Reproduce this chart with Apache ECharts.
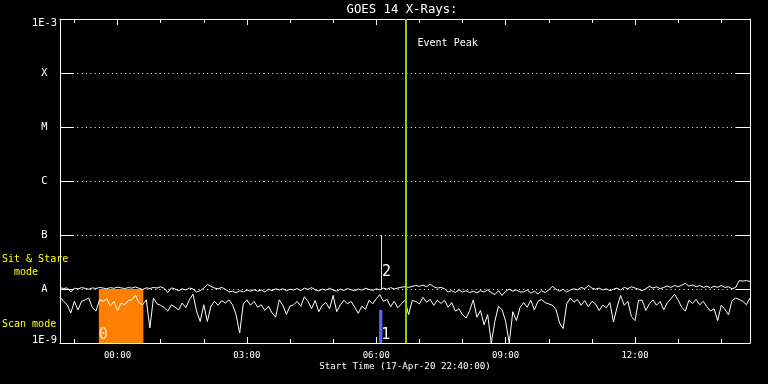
<!DOCTYPE html>
<html><head><meta charset="utf-8">
<script src="https://cdn.jsdelivr.net/npm/echarts@6/dist/echarts.min.js"></script>
<style>html,body{margin:0;padding:0;background:#000}#c{width:768px;height:384px}</style>
</head><body><div id="c"></div>
<script>
// ---------- data ----------
const chartTitle = 'GOES 14 X-Rays:';
const startTimeLabel = 'Start Time (17-Apr-20 22:40:00)';
// time in minutes relative to 00:00 on 18-Apr-20
const timeStartMin = -80;      // 22:40
const timeEndMin = 880;        // 14:40
const sampleStepMin = 5;
const yTickLabels = ['1E-9', 'A', 'B', 'C', 'M', 'X', '1E-3'];
const fluxMin = 1e-9, fluxMax = 1e-3;

// GOES long channel (1-8 A), W/m^2
const longFlux = [
1.06e-8,1.02e-8,1.05e-8,0.88e-8,1.04e-8,1.00e-8,1.06e-8,1.03e-8,0.99e-8,1.05e-8,1.02e-8,1.07e-8,1.04e-8,1.01e-8,1.06e-8,1.03e-8,1.08e-8,1.05e-8,1.02e-8,1.06e-8,1.04e-8,1.09e-8,1.03e-8,0.98e-8,1.05e-8,1.02e-8,1.07e-8,1.04e-8,1.10e-8,1.03e-8,0.86e-8,1.05e-8,1.00e-8,
0.93e-8,1.01e-8,0.96e-8,1.04e-8,1.00e-8,0.88e-8,0.93e-8,1.04e-8,1.21e-8,1.12e-8,1.04e-8,1.01e-8,1.07e-8,0.99e-8,0.88e-8,0.91e-8,0.85e-8,0.93e-8,0.88e-8,0.96e-8,0.91e-8,0.97e-8,0.91e-8,0.96e-8,0.88e-8,0.99e-8,0.93e-8,1.01e-8,0.96e-8,1.01e-8,0.93e-8,0.99e-8,
0.96e-8,1.02e-8,0.93e-8,1.04e-8,0.98e-8,1.06e-8,0.97e-8,0.92e-8,1.00e-8,0.95e-8,1.03e-8,0.96e-8,0.91e-8,0.99e-8,0.94e-8,1.02e-8,0.97e-8,0.93e-8,1.00e-8,0.95e-8,1.03e-8,0.98e-8,0.94e-8,1.01e-8,0.96e-8,1.04e-8,0.99e-8,1.06e-8,1.00e-8,1.04e-8,1.08e-8,1.10e-8,
1.07e-8,1.12e-8,1.16e-8,1.12e-8,1.18e-8,1.10e-8,1.23e-8,1.10e-8,1.04e-8,1.07e-8,1.01e-8,0.88e-8,0.93e-8,0.86e-8,0.96e-8,0.88e-8,0.93e-8,0.86e-8,0.91e-8,0.85e-8,0.93e-8,0.88e-8,0.96e-8,0.86e-8,0.785e-8,0.93e-8,0.76e-8,0.91e-8,0.99e-8,0.91e-8,0.96e-8,0.88e-8,
0.88e-8,0.96e-8,0.84e-8,0.91e-8,0.81e-8,0.93e-8,0.86e-8,0.96e-8,1.12e-8,0.99e-8,0.91e-8,0.99e-8,0.88e-8,0.96e-8,1.01e-8,0.96e-8,1.07e-8,1.01e-8,1.16e-8,1.04e-8,0.99e-8,1.04e-8,0.96e-8,1.01e-8,0.93e-8,0.99e-8,1.04e-8,0.96e-8,1.07e-8,1.01e-8,1.10e-8,1.04e-8,0.99e-8,
0.93e-8,1.01e-8,1.12e-8,1.04e-8,1.10e-8,1.01e-8,1.07e-8,1.13e-8,1.07e-8,1.16e-8,1.10e-8,1.18e-8,1.27e-8,1.13e-8,1.18e-8,1.10e-8,1.16e-8,1.07e-8,1.13e-8,1.04e-8,1.13e-8,1.07e-8,1.16e-8,1.07e-8,1.10e-8,1.01e-8,1.07e-8,1.43e-8,1.40e-8,1.43e-8,1.38e-8
];
// GOES short channel (0.5-4 A), W/m^2
const shortFlux = [
0.70e-8,0.59e-8,0.51e-8,0.36e-8,0.59e-8,0.41e-8,0.59e-8,0.63e-8,0.68e-8,0.45e-8,0.39e-8,0.63e-8,0.59e-8,0.66e-8,0.48e-8,0.59e-8,0.40e-8,0.55e-8,0.51e-8,0.61e-8,0.63e-8,0.76e-8,0.55e-8,0.51e-8,0.63e-8,0.19e-8,0.68e-8,0.53e-8,0.50e-8,0.45e-8,0.39e-8,0.51e-8,0.46e-8,
0.41e-8,0.55e-8,0.45e-8,0.63e-8,0.80e-8,0.39e-8,0.25e-8,0.51e-8,0.25e-8,0.48e-8,0.59e-8,0.50e-8,0.61e-8,0.55e-8,0.63e-8,0.51e-8,0.335e-8,0.153e-8,0.53e-8,0.63e-8,0.50e-8,0.59e-8,0.46e-8,0.51e-8,0.40e-8,0.48e-8,0.36e-8,0.30e-8,0.63e-8,0.50e-8,0.34e-8,0.48e-8,
0.51e-8,0.59e-8,0.48e-8,0.72e-8,0.59e-8,0.43e-8,0.61e-8,0.38e-8,0.50e-8,0.56e-8,0.43e-8,0.76e-8,0.38e-8,0.51e-8,0.62e-8,0.53e-8,0.59e-8,0.46e-8,0.355e-8,0.48e-8,0.42e-8,0.62e-8,0.53e-8,0.66e-8,0.785e-8,0.59e-8,0.64e-8,0.47e-8,0.59e-8,0.45e-8,0.53e-8,0.62e-8,
0.335e-8,0.61e-8,0.59e-8,0.53e-8,0.70e-8,0.57e-8,0.64e-8,0.50e-8,0.62e-8,0.54e-8,0.62e-8,0.46e-8,0.56e-8,0.39e-8,0.43e-8,0.335e-8,0.29e-8,0.40e-8,0.63e-8,0.30e-8,0.40e-8,0.218e-8,0.335e-8,0.10e-8,0.252e-8,0.48e-8,0.414e-8,0.252e-8,0.10e-8,0.38e-8,0.26e-8,0.45e-8,
0.56e-8,0.46e-8,0.62e-8,0.41e-8,0.59e-8,0.64e-8,0.56e-8,0.53e-8,0.50e-8,0.42e-8,0.235e-8,0.185e-8,0.53e-8,0.68e-8,0.57e-8,0.64e-8,0.50e-8,0.61e-8,0.47e-8,0.59e-8,0.53e-8,0.40e-8,0.50e-8,0.45e-8,0.56e-8,0.245e-8,0.46e-8,0.76e-8,0.50e-8,0.59e-8,0.31e-8,0.26e-8,0.62e-8,
0.62e-8,0.40e-8,0.53e-8,0.63e-8,0.50e-8,0.59e-8,0.41e-8,0.56e-8,0.66e-8,0.80e-8,0.62e-8,0.46e-8,0.39e-8,0.62e-8,0.54e-8,0.64e-8,0.51e-8,0.59e-8,0.47e-8,0.39e-8,0.43e-8,0.26e-8,0.50e-8,0.42e-8,0.335e-8,0.61e-8,0.68e-8,0.64e-8,0.59e-8,0.51e-8,0.68e-8
];

// annotated intervals / events (minutes from 00:00, flux W/m^2)
const scanInterval = [-26, 36];       // 23:34 - 00:36, region "0"
const scanTopFlux = 1e-8;
const eventOneInterval = [364, 368.5]; // region "1"
const eventOneFlux = 4.1e-9;
const eventTwoTime = 367.3;           // marker "2"
const eventTwoRange = [1e-8, 1e-7];
const eventTwoLabelFlux = 2.02e-8;
const eventPeakTime = 401.4;          // 06:41
const eventPeakLabelFlux = 3.59e-4;
const regionLabels = ['0', '1', '2'];

// ---------- chart ----------
const MONO = '"DejaVu Sans Mono", monospace';
const chart = echarts.init(document.getElementById('c'), null, {renderer: 'canvas'});
const toXY = arr => arr.map((v, i) => [timeStartMin + i * sampleStepMin, v]);
const hhmm = v => {
  const m = ((Math.round(v) % 1440) + 1440) % 1440;
  return String(Math.floor(m / 60)).padStart(2, '0') + ':' + String(m % 60).padStart(2, '0');
};
const white = '#ffffff';
const gridBase = {top: 19, bottom: 41, containLabel: false, outerBoundsMode: 'none'};

const tickAxis = (grid, min, max, interval, pos, len, labels) => ({
  type: 'value', gridIndex: grid, min, max, interval, position: pos,
  axisLine: {show: false, onZero: false},
  axisTick: {show: true, inside: true, length: len, lineStyle: {color: white, width: 1}},
  axisLabel: labels ? {show: true, color: white, fontFamily: MONO, fontSize: 9, margin: 8,
    showMinLabel: true, showMaxLabel: true, formatter: hhmm} : {show: false},
  splitLine: {show: false}
});

chart.setOption({
  backgroundColor: '#000',
  animation: false,
  grid: [
    Object.assign({left: 60, right: 18}, gridBase),
    Object.assign({left: 74.375, right: 46.75}, gridBase),
    Object.assign({left: 117.5, right: 133}, gridBase)
  ],
  graphic: [
    {type: 'text', x: 402, y: 10, style: {text: chartTitle, fill: white, font: '12.3px ' + MONO,
      align: 'center', verticalAlign: 'middle', textAlign: 'center', textVerticalAlign: 'middle'}},
    {type: 'text', x: 2, y: 265.5, style: {text: 'Sit & Stare\n  mode', fill: '#ffff00', font: '10px ' + MONO,
      lineHeight: 13, align: 'left', verticalAlign: 'middle', textAlign: 'left', textVerticalAlign: 'middle'}},
    {type: 'text', x: 2, y: 324.4, style: {text: 'Scan mode', fill: '#ffff00', font: '10px ' + MONO,
      align: 'left', verticalAlign: 'middle', textAlign: 'left', textVerticalAlign: 'middle'}}
  ],
  xAxis: [
    {type: 'value', gridIndex: 0, min: timeStartMin, max: timeEndMin, position: 'bottom',
      axisLine: {show: true, onZero: false, lineStyle: {color: white, width: 1}},
      axisTick: {show: false}, axisLabel: {show: false}, splitLine: {show: false},
      name: startTimeLabel, nameLocation: 'middle', nameGap: 19,
      nameTextStyle: {color: white, fontFamily: MONO, fontSize: 9.2}},
    {type: 'value', gridIndex: 0, min: timeStartMin, max: timeEndMin, position: 'top',
      axisLine: {show: true, onZero: false, lineStyle: {color: white, width: 1}},
      axisTick: {show: false}, axisLabel: {show: false}, splitLine: {show: false}},
    tickAxis(1, -60, 840, 60, 'bottom', 4, false),
    tickAxis(1, -60, 840, 60, 'top', 4, false),
    tickAxis(2, 0, 720, 180, 'bottom', 6, true),
    tickAxis(2, 0, 720, 180, 'top', 6, false)
  ],
  yAxis: [
    {type: 'log', logBase: 10, gridIndex: 0, min: fluxMin, max: fluxMax, position: 'left',
      axisLine: {show: true, onZero: false, lineStyle: {color: white, width: 1}},
      axisTick: {show: true, inside: true, length: 14, lineStyle: {color: white, width: 1}},
      axisLabel: {show: true, color: white, fontFamily: MONO, fontSize: 10.4, margin: 15.5, align: 'center',
        formatter: v => {
          const k = Math.round(Math.log10(v)) + 9;
          const s = yTickLabels[k];
          if (k === 0) return '{b|' + s + '}';
          if (k === yTickLabels.length - 1) return '{t|' + s + '}';
          return s;
        },
        rich: {
          t: {padding: [9, 0, 0, 0], color: white, fontFamily: MONO, fontSize: 10.4},
          b: {padding: [0, 0, 6, 0], color: white, fontFamily: MONO, fontSize: 10.4}
        }},
      splitLine: {show: true, lineStyle: {color: white, width: 1, type: [1, 3.33]}}},
    {type: 'log', logBase: 10, gridIndex: 0, min: fluxMin, max: fluxMax, position: 'right',
      axisLine: {show: true, onZero: false, lineStyle: {color: white, width: 1}},
      axisTick: {show: true, inside: true, length: 14, lineStyle: {color: white, width: 1}},
      axisLabel: {show: false}, splitLine: {show: false}},
    {type: 'value', gridIndex: 1, show: false, min: 0, max: 1, axisLine: {onZero: false}},
    {type: 'value', gridIndex: 2, show: false, min: 0, max: 1, axisLine: {onZero: false}}
  ],
  series: [
    {type: 'line', name: 'areas', xAxisIndex: 0, yAxisIndex: 0, data: [], z: 1, silent: true,
      markArea: {silent: true,
        data: [
          [{xAxis: scanInterval[0], yAxis: fluxMin, itemStyle: {color: '#ff8000', opacity: 1, borderWidth: 0},
            label: {show: true, formatter: regionLabels[0], position: ['0%', '100%'], align: 'left', verticalAlign: 'bottom',
              offset: [0, 0], color: '#ffe4c8', fontFamily: MONO, fontSize: 15}},
           {xAxis: scanInterval[1], yAxis: scanTopFlux}],
          [{xAxis: eventOneInterval[0], yAxis: fluxMin, itemStyle: {color: '#6060ff', opacity: 1, borderWidth: 0},
            label: {show: true, formatter: regionLabels[1], position: ['100%', '100%'], align: 'left', verticalAlign: 'bottom',
              offset: [-1, 0], color: white, fontFamily: MONO, fontSize: 15}},
           {xAxis: eventOneInterval[1], yAxis: eventOneFlux}]
        ]}},
    {type: 'line', name: 'Short', xAxisIndex: 0, yAxisIndex: 0, data: toXY(shortFlux), z: 3,
      symbol: 'none', showSymbol: false, lineStyle: {color: white, width: 1}, itemStyle: {color: white}},
    {type: 'line', name: 'Long', xAxisIndex: 0, yAxisIndex: 0, data: toXY(longFlux), z: 3,
      symbol: 'none', showSymbol: false, lineStyle: {color: white, width: 1}, itemStyle: {color: white}},
    {type: 'line', name: 'events', xAxisIndex: 0, yAxisIndex: 0, data: [], z: 5, silent: true,
      markLine: {silent: true, symbol: ['none', 'none'], label: {show: false},
        data: [
          [{coord: [eventTwoTime, eventTwoRange[1]], lineStyle: {color: '#ffff00', width: 1, type: 'solid'}},
           {coord: [eventTwoTime, eventTwoRange[0]]}],
          {xAxis: eventPeakTime, lineStyle: {color: '#99cc00', width: 2, type: 'solid'}}
        ]},
      markPoint: {silent: true, symbol: 'circle', symbolSize: 1, itemStyle: {color: 'rgba(0,0,0,0)'},
        data: [
          {coord: [eventPeakTime, eventPeakLabelFlux],
            label: {show: true, formatter: 'Event Peak', position: 'right', distance: 11, color: white, fontFamily: MONO, fontSize: 10}},
          {coord: [eventTwoTime, eventTwoLabelFlux],
            label: {show: true, formatter: regionLabels[2], position: 'right', distance: 0, color: white, fontFamily: MONO, fontSize: 15}}
        ]}}
  ]
});
</script></body></html>
